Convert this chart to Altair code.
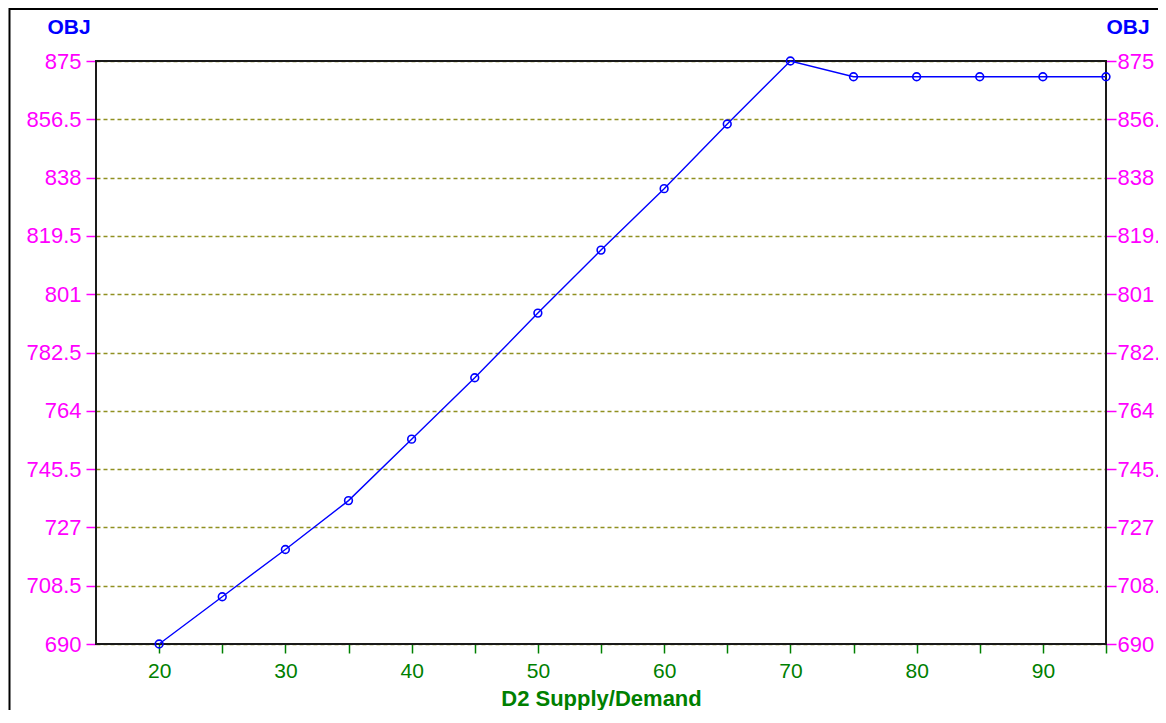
import altair as alt
import pandas as pd

x_vals = [20, 25, 30, 35, 40, 45, 50, 55, 60, 65, 70, 75, 80, 85, 90, 95]
obj_vals = [690, 705, 720, 735.5, 755, 774.5, 795, 815, 834.5, 855, 875, 870, 870, 870, 870, 870]
y_ticks = [690, 708.5, 727, 745.5, 764, 782.5, 801, 819.5, 838, 856.5, 875]
x_ticks = [20, 25, 30, 35, 40, 45, 50, 55, 60, 65, 70, 75, 80, 85, 90, 95]

df = pd.DataFrame({"x": x_vals, "obj": obj_vals})

BLUE = "#0000FF"
PINK = "#FF00FF"
GREEN = "#008000"
FONT = "Liberation Sans"

xscale = alt.Scale(domain=[15, 95], nice=False, zero=False)
xaxis = alt.Axis(
    values=x_ticks,
    labelExpr="datum.value % 10 == 0 ? datum.label : ''",
    title="D2 Supply/Demand",
    titleColor=GREEN,
    titleFont=FONT,
    titleFontSize=22,
    titleFontWeight="bold",
    titleBaseline="alphabetic",
    titleY=61,
    labelColor=GREEN,
    labelFont=FONT,
    labelFontSize=21,
    labelPadding=7,
    tickColor=GREEN,
    tickSize=9,
    tickWidth=1.5,
    domain=False,
    grid=False,
)

yscale = alt.Scale(domain=[690, 875], nice=False, zero=False)

left_axis = alt.Axis(
    values=y_ticks,
    labelExpr="'' + datum.value",
    title="OBJ",
    titleAngle=0,
    titleAlign="center",
    titleBaseline="alphabetic",
    titleX=-27.5,
    titleY=-28,
    titleColor=BLUE,
    titleFont=FONT,
    titleFontSize=21,
    titleFontWeight="bold",
    labelColor=PINK,
    labelFont=FONT,
    labelFontSize=22,
    labelPadding=5,
    tickColor=PINK,
    tickSize=10,
    tickWidth=1.5,
    domain=False,
    grid=True,
    gridColor="#909020",
    gridDash=[4, 3],
    gridWidth=1.5,
    orient="left",
)

right_axis = alt.Axis(
    values=y_ticks,
    labelExpr="'' + datum.value",
    title="OBJ",
    titleAngle=0,
    titleAlign="center",
    titleBaseline="alphabetic",
    titleX=21.5,
    titleY=-28,
    titleColor=BLUE,
    titleFont=FONT,
    titleFontSize=21,
    titleFontWeight="bold",
    labelColor=PINK,
    labelFont=FONT,
    labelFontSize=22,
    labelPadding=1,
    tickColor=PINK,
    tickSize=10,
    tickWidth=1.5,
    domain=False,
    grid=False,
    orient="right",
)

one = pd.DataFrame({"a": [0]})

outer_frame = alt.Chart(one).mark_rect(
    filled=False, stroke="black", strokeWidth=2, clip=False
).encode(
    x=alt.value(-86.5), x2=alt.value(3000), y=alt.value(-52), y2=alt.value(3000)
)

plot_frame = alt.Chart(one).mark_rect(
    filled=False, stroke="#1a1a1a", strokeWidth=2, clip=False
).encode(
    x=alt.value(0), x2=alt.value(1010), y=alt.value(0), y2=alt.value(583)
)

line = alt.Chart(df).mark_line(color=BLUE, strokeWidth=1.4).encode(
    x=alt.X("x:Q", scale=xscale, axis=xaxis),
    y=alt.Y("obj:Q", scale=yscale, axis=left_axis),
)

points = alt.Chart(df).mark_point(
    shape="circle", filled=False, color=BLUE, size=60, strokeWidth=1.6, opacity=1
).encode(
    x=alt.X("x:Q", scale=xscale, axis=xaxis),
    y=alt.Y("obj:Q", scale=yscale, axis=right_axis),
)

chart = (
    alt.layer(outer_frame, plot_frame, line, points)
    .resolve_axis(y="independent")
    .properties(
        width=1010,
        height=583,
        autosize=alt.AutoSizeParams(type="none"),
        padding={"left": 88, "top": 53, "right": 52, "bottom": 66},
        background="white",
    )
    .configure_view(stroke=None)
)

chart.save("out.html", embed_options={"renderer": "svg", "actions": False})
